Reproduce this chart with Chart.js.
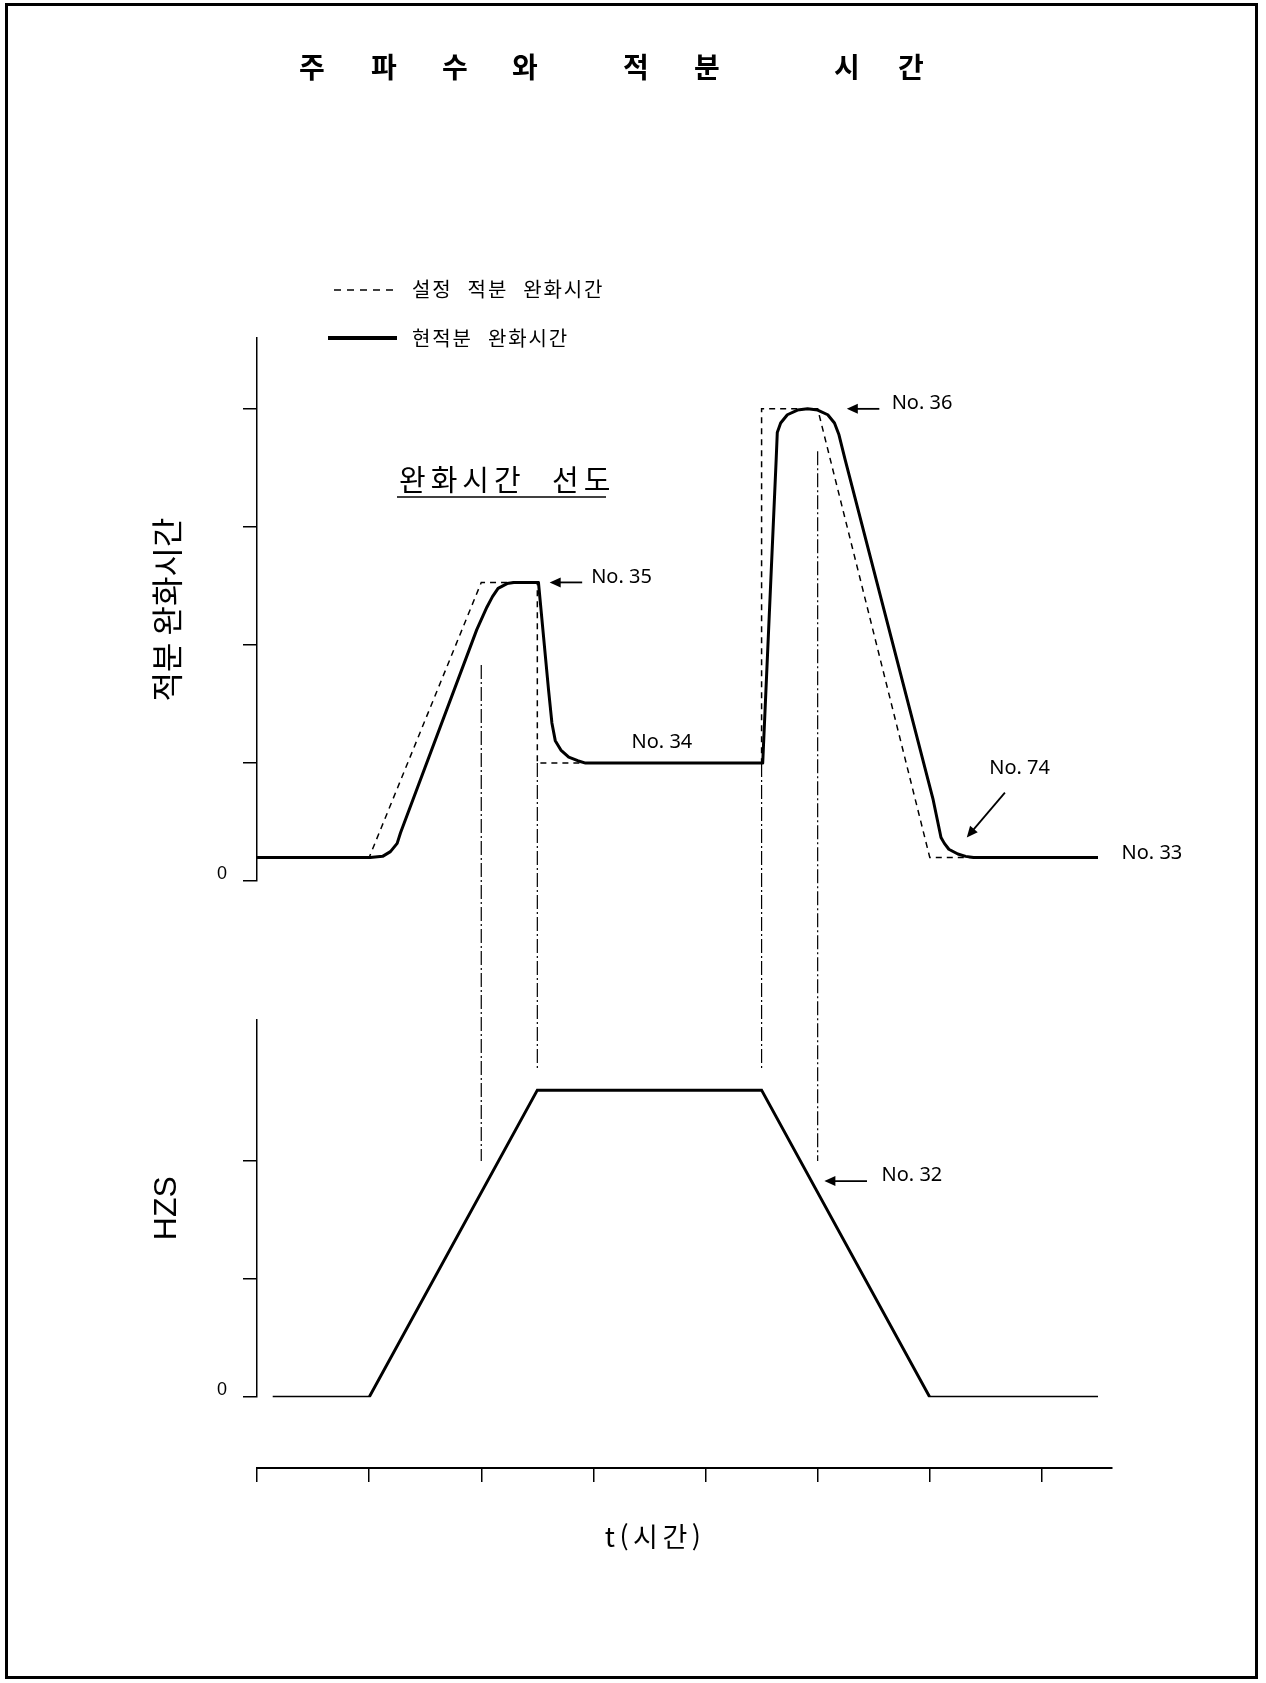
<!DOCTYPE html>
<html lang="ko">
<head>
<meta charset="UTF-8">
<title>주파수와 적분 시간</title>
<script src="https://cdn.jsdelivr.net/npm/chart.js"></script>
<style>
    body { margin: 0; background: #fff; }
    #page { position: relative; width: 1266px; height: 1683px; }
    #chart { position: absolute; left: 0; top: 0; }
    #frame {
        position: absolute; left: 5px; top: 3px; width: 1253px; height: 1676px;
        border: 3px solid #000; box-sizing: border-box; pointer-events: none;
    }
</style>
</head>
<body>
<div id="page">
    <canvas id="chart" width="1266" height="1683"></canvas>
    <div id="frame"></div>
</div>
<script>
// 시간축 눈금
const tTicks = [0, 1, 2, 3, 4, 5, 6, 7];
const topTicks = [0, 1, 2, 3, 4];
const hzsTicks = [0, 1, 2];

// 설정 적분 완화시간 (점선)
const setT = [0, 1.0, 2.0, 2.5, 2.5, 4.5, 4.5, 5.0, 6.0, 7.5];
const setV = [0.2, 0.2, 2.53, 2.53, 1.0, 1.0, 4.0, 4.0, 0.2, 0.2];

// 현적분 완화시간 (실선)
const actT = [0, 1.01, 1.12, 1.19, 1.25, 1.28, 1.96, 2.05, 2.10, 2.15, 2.23, 2.29,
              2.51, 2.60, 2.63, 2.66, 2.71, 2.78, 2.86, 2.93, 4.51, 4.63, 4.64, 4.67,
              4.73, 4.82, 4.91, 5.00, 5.09, 5.15, 5.19, 5.245, 6.03, 6.10, 6.13, 6.17,
              6.25, 6.32, 6.39, 7.50];
const actV = [0.2, 0.2, 0.21, 0.25, 0.32, 0.41, 2.13, 2.32, 2.41, 2.48, 2.52, 2.53,
              2.53, 1.62, 1.34, 1.19, 1.11, 1.05, 1.02, 1.0, 1.0, 3.57, 3.80, 3.88,
              3.95, 3.99, 4.0, 3.99, 3.95, 3.88, 3.78, 3.57, 0.69, 0.37, 0.32, 0.27,
              0.23, 0.21, 0.2, 0.2];

// HZS
const hzsT = [0.14, 1.0, 2.5, 4.5, 6.0, 7.5];
const hzsV = [0, 0, 2.6, 2.6, 0, 0];

// 위 그래프 -> 아래 그래프 투영선 (일점쇄선)
const guideT = [2.0, 2.5, 4.5, 5.0];
const guideTop = [1.83, 1.0, 1.0, 3.64];
const guideBot = [2.0, 2.78, 2.78, 2.0];

// 번호 표시 (글자 위치 t, v / 화살표 시작, 끝)
const notes = [
    { text: 'No. 35', axis: 'yTop', t: 2.98, v: 2.57, from: [2.90, 2.53], to: [2.61, 2.53] },
    { text: 'No. 34', axis: 'yTop', t: 3.34, v: 1.18 },
    { text: 'No. 36', axis: 'yTop', t: 5.66, v: 4.05, from: [5.55, 4.0], to: [5.26, 4.0] },
    { text: 'No. 74', axis: 'yTop', t: 6.53, v: 0.96, from: [6.67, 0.75], to: [6.33, 0.37] },
    { text: 'No. 33', axis: 'yTop', t: 7.71, v: 0.24 },
    { text: 'No. 32', axis: 'yBot', t: 5.57, v: 1.88, from: [5.44, 1.83], to: [5.06, 1.83] }
];

const KR = "'Noto Sans CJK KR', 'Noto Sans', sans-serif";
Chart.defaults.font.family = KR;
Chart.defaults.color = '#000';

const pts = (ts, vs) => ts.map((t, i) => ({ x: t, y: vs[i] }));

function drawArrow(ctx, x1, y1, x2, y2) {
    const a = Math.atan2(y2 - y1, x2 - x1);
    const c = Math.cos(a), s = Math.sin(a);
    ctx.beginPath();
    ctx.moveTo(x1, y1);
    ctx.lineTo(x2 - 8 * c, y2 - 8 * s);
    ctx.stroke();
    ctx.beginPath();
    ctx.moveTo(x2, y2);
    ctx.lineTo(x2 - 11 * c + 5 * s, y2 - 11 * s - 5 * c);
    ctx.lineTo(x2 - 11 * c - 5 * s, y2 - 11 * s + 5 * c);
    ctx.closePath();
    ctx.fill();
}

// 자간을 넣어 한 글자씩 그림
function spacedText(ctx, text, x, y, gap, center) {
    const chars = Array.from(text);
    const widths = chars.map(ch => ctx.measureText(ch).width);
    const total = widths.reduce((a, b) => a + b, 0) + gap * (chars.length - 1);
    let cx = center ? x - total / 2 : x;
    ctx.textAlign = 'left';
    chars.forEach((ch, i) => {
        ctx.fillText(ch, cx, y);
        cx += widths[i] + gap;
    });
}

const overlay = {
    id: 'overlay',
    beforeDatasetsDraw(chart) {
        const { ctx, scales: { x, yTop, yBot } } = chart;
        ctx.save();
        ctx.strokeStyle = '#000';
        ctx.lineWidth = 1.2;
        ctx.setLineDash([14, 3, 2, 3]);
        guideT.forEach((t, i) => {
            const px = x.getPixelForValue(t);
            ctx.beginPath();
            ctx.moveTo(px, yTop.getPixelForValue(guideTop[i]));
            ctx.lineTo(px, yBot.getPixelForValue(guideBot[i]));
            ctx.stroke();
        });
        ctx.restore();
    },
    afterDraw(chart) {
        const { ctx, scales } = chart;
        const x = scales.x;
        ctx.save();
        ctx.fillStyle = '#000';
        ctx.strokeStyle = '#000';
        ctx.textBaseline = 'middle';

        // 제목
        const titleChars = ['주', '파', '수', '와', '적', '분', '시', '간'];
        const titleX = [312, 384, 455, 525, 636, 707, 847, 911];
        ctx.font = 'bold 28px ' + KR;
        ctx.textAlign = 'center';
        titleChars.forEach((ch, i) => ctx.fillText(ch, titleX[i], 67));

        // 범례
        ctx.lineWidth = 1.5;
        ctx.setLineDash([7, 6]);
        ctx.beginPath(); ctx.moveTo(334, 290); ctx.lineTo(399, 290); ctx.stroke();
        ctx.setLineDash([]);
        ctx.lineWidth = 4;
        ctx.beginPath(); ctx.moveTo(328, 338); ctx.lineTo(397, 338); ctx.stroke();
        ctx.font = '20px ' + KR;
        spacedText(ctx, '설정  적분  완화시간', 412, 289, 1.9);
        spacedText(ctx, '현적분  완화시간', 412, 338, 1.9);

        // 소제목
        ctx.font = '29px ' + KR;
        spacedText(ctx, '완화시간  선도', 399, 480, 5);
        ctx.lineWidth = 1.5;
        ctx.beginPath(); ctx.moveTo(397, 497); ctx.lineTo(606, 497); ctx.stroke();

        // 번호 표시
        ctx.font = "20px 'Noto Sans', sans-serif";
        ctx.textAlign = 'left';
        ctx.lineWidth = 1.8;
        notes.forEach(n => {
            const y = scales[n.axis];
            ctx.fillText(n.text, x.getPixelForValue(n.t), y.getPixelForValue(n.v));
            if (n.from) {
                drawArrow(ctx,
                    x.getPixelForValue(n.from[0]), y.getPixelForValue(n.from[1]),
                    x.getPixelForValue(n.to[0]), y.getPixelForValue(n.to[1]));
            }
        });

        // 시간축 제목
        ctx.font = '27px ' + KR;
        spacedText(ctx, 't(시간)', x.getPixelForValue(3.53), chart.chartArea.bottom + 69, 4.5, true);
        ctx.restore();
    }
};

const yAxis = (ticksList, max, weight, stackWeight, title, titleFont) => ({
    type: 'linear',
    position: 'left',
    stack: 'v',
    stackWeight: stackWeight,
    weight: weight,
    min: 0,
    max: max,
    afterBuildTicks: s => { s.ticks = ticksList.map(v => ({ value: v })); },
    afterFit: s => { s.width = 109; },
    border: { display: true, color: '#000', width: 1.5 },
    grid: { drawOnChartArea: false, drawTicks: true, tickLength: 14, color: '#000', lineWidth: 1.5 },
    ticks: {
        callback: v => (v === 0 ? '0' : ''),
        font: { family: "'Liberation Sans', sans-serif", size: 18 },
        color: '#000',
        padding: 16,
        labelOffset: -7
    },
    title: { display: true, text: title, font: titleFont, color: '#000', padding: 0 }
});

const spacer = (weight, stackWeight) => ({
    type: 'linear', position: 'left', stack: 'v', stackWeight: stackWeight, weight: weight,
    min: 0, max: 1, display: false
});

new Chart(document.getElementById('chart'), {
    type: 'line',
    data: {
        datasets: [
            {
                label: '현적분 완화시간',
                data: pts(actT, actV),
                yAxisID: 'yTop',
                borderColor: '#000',
                borderWidth: 3,
                borderJoinStyle: 'round',
                pointRadius: 0,
                tension: 0
            },
            {
                label: '설정 적분 완화시간',
                data: pts(setT, setV),
                yAxisID: 'yTop',
                borderColor: '#000',
                borderWidth: 1.5,
                borderDash: [6, 5],
                pointRadius: 0,
                tension: 0
            },
            {
                label: 'HZS',
                data: pts(hzsT, hzsV),
                yAxisID: 'yBot',
                borderColor: '#000',
                borderWidth: 3,
                pointRadius: 0,
                tension: 0
            }
        ]
    },
    options: {
        responsive: false,
        animation: false,
        devicePixelRatio: 1,
        layout: { padding: { left: 148, top: 338, right: 154, bottom: 201 } },
        plugins: { legend: { display: false }, tooltip: { enabled: false } },
        scales: {
            x: {
                type: 'linear',
                min: 0,
                max: 7.625,
                afterBuildTicks: s => { s.ticks = tTicks.map(v => ({ value: v })); },
                afterFit: s => { s.height = 14; },
                border: { display: true, color: '#000', width: 2 },
                grid: { drawOnChartArea: false, drawTicks: true, tickLength: 14, color: '#000', lineWidth: 1.5 },
                ticks: { display: false }
            },
            yTop: yAxis(topTicks, 4.6, 4, 4.6, '적분 완화시간', { family: KR, size: 32 }),
            yGap: spacer(3, 1.17),
            yBot: yAxis(hzsTicks, 3.2, 2, 3.2, 'HZS', { family: "'Liberation Sans', sans-serif", size: 32 }),
            yPad: spacer(1, 0.6)
        }
    },
    plugins: [overlay]
});
</script>
</body>
</html>
